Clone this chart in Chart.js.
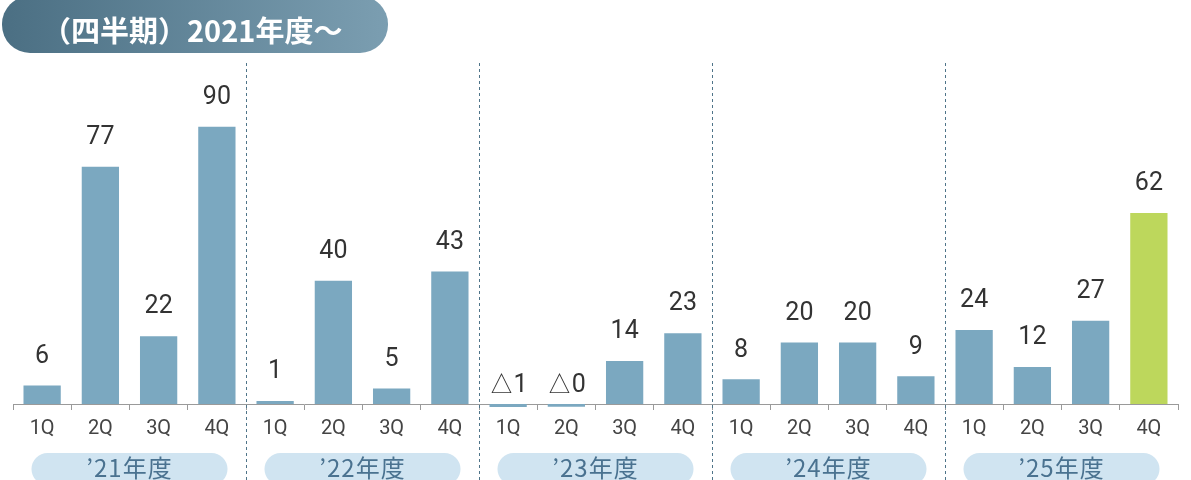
<!DOCTYPE html>
<html lang="ja">
<head>
<meta charset="utf-8">
<script src="https://cdn.jsdelivr.net/npm/chart.js@4"></script>
<style>
  html, body { margin: 0; padding: 0; background: #fff; }
  #wrap { position: relative; width: 1191px; height: 480px; overflow: hidden; }
  #title {
    position: absolute; left: 2px; top: -4px; width: 386px; height: 57px;
    border-radius: 28px;
    background: linear-gradient(90deg, #4b6f83, #7b9eb1);
    color: #fff; font: bold 29px "Noto Sans CJK JP", sans-serif;
    line-height: 66px; padding-left: 40px; box-sizing: border-box; white-space: nowrap;
  }
  canvas { position: absolute; left: 0; top: 0; }
</style>
</head>
<body>
<div id="wrap">
  <canvas id="chart" width="1191" height="480"></canvas>
  <div id="title">（四半期）2021年度～</div>
</div>
<script>
// -------- Data ----------
const quarters = ["1Q","2Q","3Q","4Q","1Q","2Q","3Q","4Q","1Q","2Q","3Q","4Q","1Q","2Q","3Q","4Q","1Q","2Q","3Q","4Q"];
const values   = [6, 77, 22, 90, 1, 40, 5, 43, -1, -0.9, 14, 23, 8, 20, 20, 9, 24, 12, 27, 62];
const valueText = ["6","77","22","90","1","40","5","43","△1","△0","14","23","8","20","20","9","24","12","27","62"];
const years    = ["’21年度","’22年度","’23年度","’24年度","’25年度"];

const BLUE = "#7ba8c0";
const GREEN = "#bdd75c";
const barColors = values.map((v, i) => i === values.length - 1 ? GREEN : BLUE);

// ----- Overlay: value labels, separators, year pills -----
const overlay = {
  id: "overlay",
  afterDatasetsDraw(chart) {
    const { ctx, scales: { x, y } } = chart;
    const zero = y.getPixelForValue(0);
    ctx.save();

    // value labels
    ctx.fillStyle = "#333";
    ctx.font = "25px Roboto";
    ctx.textAlign = "center";
    ctx.textBaseline = "middle";
    values.forEach((v, i) => {
      const px = x.getPixelForValue(i);
      const py = v >= 0 ? y.getPixelForValue(v) - 29 : zero - 18;
      ctx.fillText(valueText[i], px, py);
    });

    // dashed separators between years
    ctx.strokeStyle = "#4f7489";
    ctx.lineWidth = 1;
    ctx.setLineDash([3, 3]);
    for (let g = 1; g < years.length; g++) {
      const sx = Math.round((x.getPixelForValue(g * 4 - 1) + x.getPixelForValue(g * 4)) / 2) + 0.5;
      ctx.beginPath();
      ctx.moveTo(sx, 63);
      ctx.lineTo(sx, 480);
      ctx.stroke();
    }
    ctx.setLineDash([]);

    // year pills
    years.forEach((yl, g) => {
      const cx = (x.getPixelForValue(g * 4) + x.getPixelForValue(g * 4 + 3)) / 2;
      const w = 196, h = 32, top = 453;
      ctx.fillStyle = "#d0e4f1";
      ctx.beginPath();
      ctx.roundRect(cx - w / 2, top, w, h, 16);
      ctx.fill();
      ctx.fillStyle = "#4a7290";
      ctx.font = "24px 'Noto Sans CJK JP'";
      ctx.letterSpacing = "1px";
      ctx.fillText(yl, cx, top + 15);
      ctx.letterSpacing = "0px";
    });
    ctx.restore();
  }
};

new Chart(document.getElementById("chart"), {
  type: "bar",
  data: {
    labels: quarters,
    datasets: [{
      data: values,
      backgroundColor: barColors,
      categoryPercentage: 1,
      barPercentage: 0.64,
      clip: false
    }]
  },
  options: {
    responsive: false,
    animation: false,
    layout: { padding: { top: 96, left: 13, right: 13, bottom: 0 } },
    plugins: { legend: { display: false }, tooltip: { enabled: false } },
    scales: {
      y: { display: false, min: 0, max: 100 },
      x: {
        afterFit: (s) => { s.height = 76; },
        grid: { offset: true, drawOnChartArea: false, drawTicks: true, tickLength: 6, color: "#9a9a9a" },
        border: { display: true, color: "#9a9a9a" },
        ticks: { color: "#444", font: { family: "Roboto", size: 20 }, padding: 7, maxRotation: 0, autoSkip: false }
      }
    }
  },
  plugins: [overlay]
});
</script>
</body>
</html>
